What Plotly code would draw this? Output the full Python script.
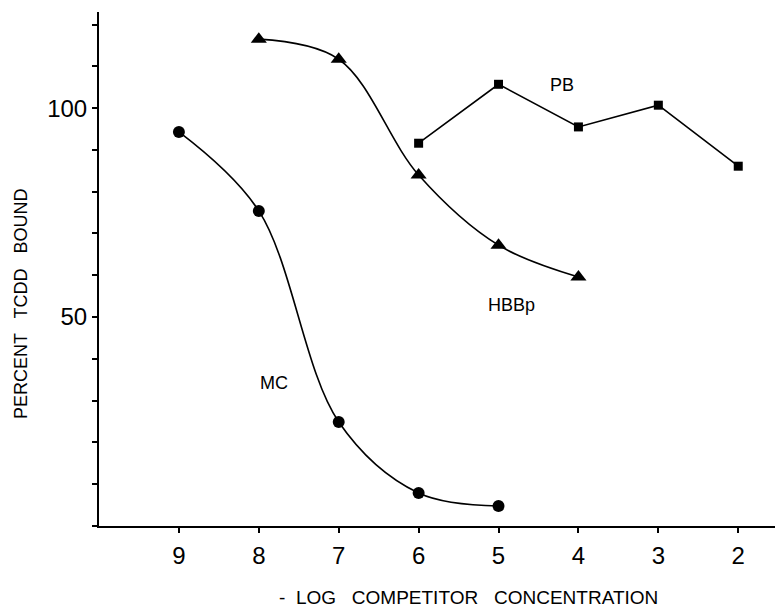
import plotly.graph_objects as go

# ---- data ----
mc_x = [9, 8, 7, 6, 5]
mc_y = [94.3, 75.4, 24.9, 7.9, 4.8]

hbbp_x = [8, 7, 6, 5, 4]
hbbp_y = [116.5, 111.7, 84.0, 67.2, 59.6]

pb_x = [6, 5, 4, 3, 2]
pb_y = [91.6, 105.7, 95.5, 100.7, 86.1]

x_tickvals = [9, 8, 7, 6, 5, 4, 3, 2]
x_ticktext = ["9", "8", "7", "6", "5", "4", "3", "2"]
y_tickvals = [0, 10, 20, 30, 40, 50, 60, 70, 80, 90, 100, 110, 120]
y_ticktext = ["", "", "", "", "", "50", "", "", "", "", "100", "", ""]

series_labels = ["MC", "HBBp", "PB"]
label_x = [7.81, 4.84, 4.21]
label_y = [34.2, 52.9, 105.5]

FONT = "Liberation Sans, Arial, sans-serif"

fig = go.Figure()
fig.add_trace(go.Scatter(
    x=mc_x, y=mc_y, mode="lines+markers", name="MC",
    line=dict(color="black", width=1.6, shape="spline", smoothing=1.0),
    marker=dict(symbol="circle", size=12, color="black"),
))
fig.add_trace(go.Scatter(
    x=hbbp_x, y=hbbp_y, mode="lines+markers", name="HBBp",
    line=dict(color="black", width=1.6, shape="spline", smoothing=1.0),
    marker=dict(symbol="triangle-up", size=14, color="black"),
))
fig.add_trace(go.Scatter(
    x=pb_x, y=pb_y, mode="lines+markers", name="PB",
    line=dict(color="black", width=1.6),
    marker=dict(symbol="square", size=9, color="black"),
))

for t, lx, ly in zip(series_labels, label_x, label_y):
    fig.add_annotation(x=lx, y=ly, text=t, showarrow=False,
                       font=dict(family=FONT, size=18, color="black"))

fig.add_annotation(xref="paper", yref="paper", x=0.546, y=-0.140,
                   text="-  LOG   COMPETITOR   CONCENTRATION", showarrow=False,
                   xanchor="center", yanchor="middle",
                   font=dict(family=FONT, size=19, color="black"))
fig.add_annotation(xref="paper", yref="paper", x=-0.1154, y=0.432,
                   text="PERCENT   TCDD   BOUND", showarrow=False, textangle=-90,
                   xanchor="center", yanchor="middle",
                   font=dict(family=FONT, size=18, color="black"))

fig.update_layout(
    width=775, height=607,
    margin=dict(l=99, r=0, t=12, b=81),
    paper_bgcolor="white", plot_bgcolor="white",
    showlegend=False,
    font=dict(family=FONT, color="black"),
)
fig.update_xaxes(
    range=[10.0, 1.54], showgrid=False, zeroline=False,
    showline=True, linecolor="black", linewidth=2,
    ticks="outside", ticklen=5, tickwidth=1.5, tickcolor="black",
    tickvals=x_tickvals, ticktext=x_ticktext,
    tickfont=dict(family=FONT, size=24, color="black"),
    ticklabelstandoff=2,
)
fig.update_yaxes(
    range=[0, 123], showgrid=False, zeroline=False,
    showline=True, linecolor="black", linewidth=2,
    ticks="outside", ticklen=5, tickwidth=1.5, tickcolor="black",
    tickvals=y_tickvals, ticktext=y_ticktext,
    tickfont=dict(family=FONT, size=24, color="black"),
    ticklabelstandoff=0,
)

fig.write_html("out.html", config={"displayModeBar": False},
               post_script="document.body.style.margin='0';")
